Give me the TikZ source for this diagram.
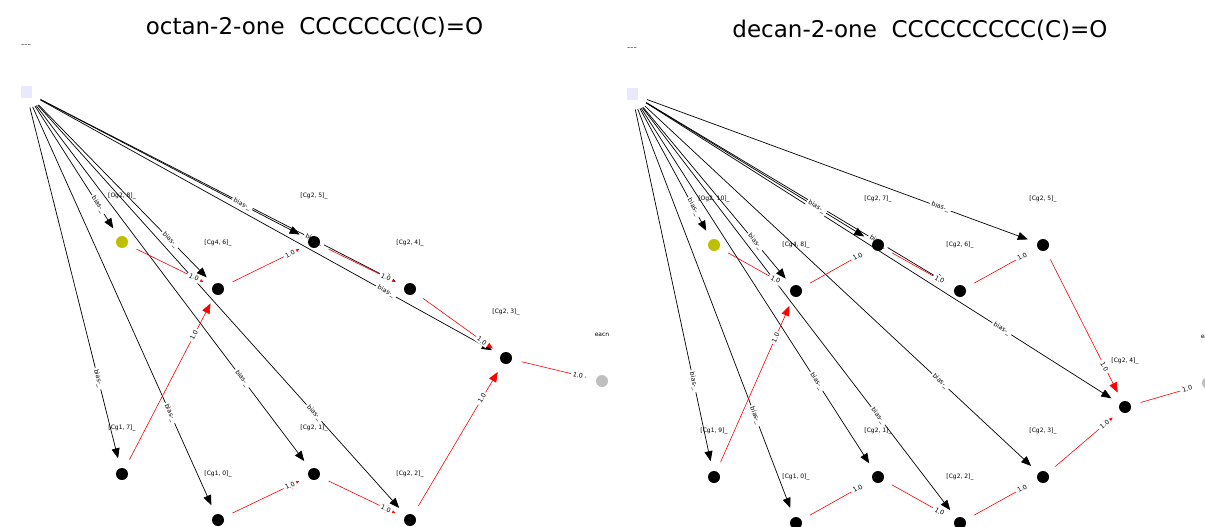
\documentclass[tikz,border=0pt]{standalone}
\usepackage{fontspec}
\setmainfont{DejaVu Sans}
\usetikzlibrary{arrows.meta}
\pgfdeclarelayer{bglayer}
\pgfdeclarelayer{edgelayer}
\pgfdeclarelayer{labellayer}
\pgfsetlayers{bglayer,edgelayer,labellayer,main}
\definecolor{oyel}{rgb}{0.75,0.75,0}
\definecolor{egray}{rgb}{0.75,0.75,0.75}
\definecolor{bsq}{RGB}{232,232,255}
\begin{document}
\begin{tikzpicture}[x=1pt,y=-1pt,
 cnode/.style={circle,fill=black,minimum size=12pt,inner sep=0pt},
 onode/.style={circle,fill=oyel,minimum size=12pt,inner sep=0pt},
 enode/.style={circle,fill=egray,minimum size=12pt,inner sep=0pt},
 bnode/.style={rectangle,fill=bsq,minimum size=11pt,inner sep=0pt},
 nlab/.style={font=\fontsize{6}{7}\selectfont,inner sep=0pt},
 bedge/.style={draw=black,line width=0.7pt,-{Triangle[length=10pt,width=8pt]},shorten >=10pt,shorten <=10pt},
 redge/.style={bedge,draw=red,line width=0.6pt},
 elab/.style={pos=0.75,sloped,fill=white,inner xsep=2pt,inner ysep=1.5pt,font=\fontsize{6.3}{7}\selectfont},
 ttl/.style={font=\fontsize{23}{27}\selectfont,inner sep=0pt},
 dsh/.style={font=\fontsize{9}{10}\selectfont,inner sep=0pt,text=black!70},
]
\useasboundingbox (0,0) rectangle (1205,527);
\begin{pgfonlayer}{bglayer}
\fill[white] (0,0) rectangle (1205,527);
\end{pgfonlayer}

% ---------- left panel ----------
\node[ttl] (t1) at (314.5,27) {octan-2-one\hspace{0.64em}CCCCCCC(C)=O};
\node[dsh] (d1) at (26,46.5) {{-}{-}{-}};
\node[bnode] (LB) at (26,92) {};
\node[onode] (LO) at (122,242) {};
\node[cnode] (L46) at (218,289) {};
\node[cnode] (L25) at (314,242) {};
\node[cnode] (L24) at (410,289) {};
\node[cnode] (L23) at (506,358) {};
\node[enode] (LE) at (602,381) {};
\node[cnode] (L17) at (122,474) {};
\node[cnode] (L10) at (218,520) {};
\node[cnode] (L21) at (314,474) {};
\node[cnode] (L22) at (410,520) {};

\node[nlab] (LOl) at (122,196) {[Og2, 8]\_};
\node[nlab] (L46l) at (218,243) {[Cg4, 6]\_};
\node[nlab] (L25l) at (314,196) {[Cg2, 5]\_};
\node[nlab] (L24l) at (410,243) {[Cg2, 4]\_};
\node[nlab] (L23l) at (506,312) {[Cg2, 3]\_};
\node[nlab] (LEl) at (602,335) {eacn};
\node[nlab] (L17l) at (122,428) {[Cg1, 7]\_};
\node[nlab] (L10l) at (218,474) {[Cg1, 0]\_};
\node[nlab] (L21l) at (314,428) {[Cg2, 1]\_};
\node[nlab] (L22l) at (410,474) {[Cg2, 2]\_};

% ---------- right panel ----------
\node[ttl] (t2) at (920,30) {decan-2-one\hspace{0.64em}CCCCCCCCC(C)=O};
\node[dsh] (d2) at (632,49.5) {{-}{-}{-}};
\node[bnode] (RB) at (632,94) {};
\node[onode] (RO) at (714,245) {};
\node[cnode] (R48) at (796,291) {};
\node[cnode] (R27) at (878,245) {};
\node[cnode] (R26) at (960,291) {};
\node[cnode] (R25) at (1043,245) {};
\node[cnode] (R24) at (1125,407) {};
\node[enode] (RE) at (1208,383) {};
\node[cnode] (R19) at (714,477) {};
\node[cnode] (R10) at (796,523) {};
\node[cnode] (R21) at (878,477) {};
\node[cnode] (R22) at (960,523) {};
\node[cnode] (R23) at (1043,477) {};

\node[nlab] (ROl) at (714,199) {[Og2, 10]\_};
\node[nlab] (R48l) at (796,245) {[Cg4, 8]\_};
\node[nlab] (R27l) at (878,199) {[Cg2, 7]\_};
\node[nlab] (R26l) at (960,245) {[Cg2, 6]\_};
\node[nlab] (R25l) at (1043,199) {[Cg2, 5]\_};
\node[nlab] (R24l) at (1125,361) {[Cg2, 4]\_};
\node[nlab] (REl) at (1208,337) {eacn};
\node[nlab] (R19l) at (714,431) {[Cg1, 9]\_};
\node[nlab] (R10l) at (796,477) {[Cg1, 0]\_};
\node[nlab] (R21l) at (878,431) {[Cg2, 1]\_};
\node[nlab] (R22l) at (960,477) {[Cg2, 2]\_};
\node[nlab] (R23l) at (1043,431) {[Cg2, 3]\_};

% ---------- edges ----------
\begin{pgfonlayer}{edgelayer}
\foreach \t in {LO,L46,L25,L24,L23,L17,L10,L21,L22}
  \draw[bedge] (LB) -- (\t);
\foreach \t in {RO,R48,R27,R26,R25,R24,R19,R10,R21,R22,R23}
  \draw[bedge] (RB) -- (\t);
\foreach \a/\b in {LO/L46,L17/L46,L46/L25,L25/L24,L24/L23,L10/L21,L21/L22,L22/L23,L23/LE,
                   RO/R48,R19/R48,R48/R27,R27/R26,R26/R25,R25/R24,R10/R21,R21/R22,R22/R23,R23/R24,R24/RE}
  \draw[redge] (\a) -- (\b);
\end{pgfonlayer}

\begin{pgfonlayer}{labellayer}
\foreach \t in {LO,L46,L25,L24,L23,L17,L10,L21,L22}
  \path (LB.center) -- node[elab] {bias-\_} (\t.center);
\foreach \t in {RO,R48,R27,R26,R25,R24,R19,R10,R21,R22,R23}
  \path (RB.center) -- node[elab] {bias-\_} (\t.center);
\foreach \a/\b in {LO/L46,L17/L46,L46/L25,L25/L24,L24/L23,L10/L21,L21/L22,L22/L23,L23/LE,
                   RO/R48,R19/R48,R48/R27,R27/R26,R26/R25,R25/R24,R10/R21,R21/R22,R22/R23,R23/R24,R24/RE}
  \path (\a.center) -- node[elab] {1.0} (\b.center);
\end{pgfonlayer}
\end{tikzpicture}
\end{document}
